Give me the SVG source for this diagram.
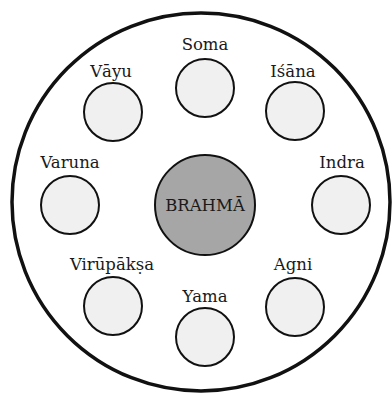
<svg xmlns="http://www.w3.org/2000/svg" width="392" height="393" viewBox="0 0 392 393">
<style>
.outer{fill:#fff;stroke:#111;stroke-width:3.5}
.deity{fill:#f0f0f0;stroke:#111;stroke-width:2}
.center{fill:#a6a6a6;stroke:#111;stroke-width:2}
text{font-family:"DejaVu Serif","Liberation Serif",serif;font-size:16.5px;fill:#1a1a1a;text-anchor:middle}
</style>
<rect width="392" height="393" fill="#fff"/>
<circle class="outer" cx="201" cy="202" r="189"/>
<g id="connectors"></g>
<g id="brahma"><circle class="center" cx="205" cy="205" r="50"/><text x="205" y="211">BRAHMĀ</text></g>
<g id="soma"><circle class="deity" cx="205" cy="88" r="29"/><text x="205" y="50">Soma</text></g>
<g id="vayu"><circle class="deity" cx="113" cy="112" r="29"/><text x="111" y="77">Vāyu</text></g>
<g id="isana"><circle class="deity" cx="295" cy="111" r="29"/><text x="293" y="77">Iśāna</text></g>
<g id="varuna"><circle class="deity" cx="70" cy="205" r="29"/><text x="70" y="168">Varuna</text></g>
<g id="indra"><circle class="deity" cx="341" cy="205" r="29"/><text x="342" y="168">Indra</text></g>
<g id="virupaksa"><circle class="deity" cx="113" cy="306" r="29"/><text x="112" y="270">Virūpākṣa</text></g>
<g id="yama"><circle class="deity" cx="205" cy="337" r="29"/><text x="205" y="302">Yama</text></g>
<g id="agni"><circle class="deity" cx="295" cy="307" r="29"/><text x="293" y="270">Agni</text></g>
</svg>
